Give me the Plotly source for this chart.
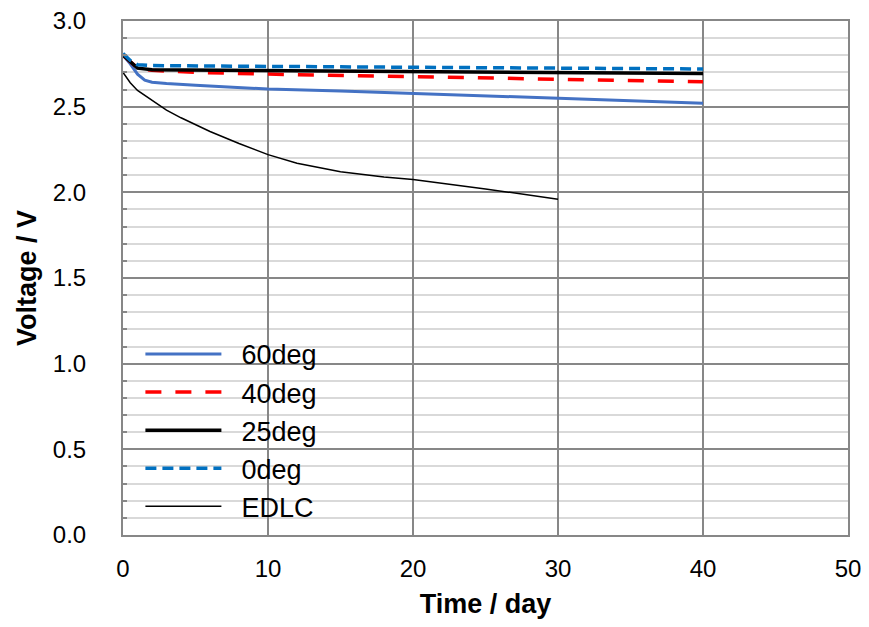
import plotly.graph_objects as go

days_60 = [0, 0.5, 1, 1.5, 2, 3, 5, 10, 15, 20, 25, 30, 35, 40]
v_60 = [2.80, 2.75, 2.69, 2.655, 2.643, 2.635, 2.625, 2.603, 2.592, 2.578, 2.563, 2.548, 2.533, 2.52]

days_40 = [0, 0.5, 1, 2, 5, 10, 20, 30, 40]
v_40 = [2.80, 2.76, 2.725, 2.712, 2.70, 2.69, 2.675, 2.657, 2.645]

days_25 = [0, 0.5, 1, 2, 10, 20, 30, 40]
v_25 = [2.80, 2.76, 2.725, 2.715, 2.71, 2.702, 2.698, 2.693]

days_0 = [0, 0.5, 1, 2, 10, 20, 30, 40]
v_0 = [2.81, 2.77, 2.745, 2.74, 2.735, 2.73, 2.725, 2.72]

days_edlc = [0, 0.5, 1, 2, 3, 4, 5, 6, 8, 10, 12, 15, 18, 20, 25, 30]
v_edlc = [2.70, 2.64, 2.595, 2.535, 2.48, 2.435, 2.395, 2.355, 2.285, 2.22, 2.17, 2.12, 2.09, 2.075, 2.02, 1.96]

x_ticks = [0, 10, 20, 30, 40, 50]
y_ticks = [0.0, 0.5, 1.0, 1.5, 2.0, 2.5, 3.0]

series = [
    ("60deg", days_60, v_60, dict(color="#4472C4", width=3)),
    ("40deg", days_40, v_40, dict(color="#FF0000", width=3.5, dash="16px,14px")),
    ("25deg", days_25, v_25, dict(color="#000000", width=3.5)),
    ("0deg", days_0, v_0, dict(color="#0070C0", width=3.5, dash="11px,6px")),
    ("EDLC", days_edlc, v_edlc, dict(color="#000000", width=1.5)),
]

fig = go.Figure()
for name, xs, ys, line in series:
    fig.add_trace(go.Scatter(x=xs, y=ys, mode="lines",
                             name="\u00a0\u00a0" + name, line=line,
                             legendgroup=name))

grid_dark = "#878787"

# white panel behind the legend (covers the gridlines like the original)
fig.add_shape(type="rect", xref="paper", yref="paper",
              x0=0.003, x1=0.30, y0=0.01, y1=0.375,
              fillcolor="white", line=dict(width=0), layer="between")

fig.update_layout(
    width=853, height=611,
    margin=dict(l=115, r=13, t=13, b=84),
    paper_bgcolor="white", plot_bgcolor="white",
    font=dict(family="Liberation Sans, Arial, sans-serif", size=24, color="#000"),
    legend=dict(x=0.024, y=0.008, xanchor="left", yanchor="bottom",
                bgcolor="rgba(255,255,255,0)", font=dict(size=27), tracegroupgap=1.5,
                itemwidth=76, traceorder="normal"),
    showlegend=True,
)
fig.update_xaxes(
    range=[0, 50], tickvals=x_ticks, ticktext=[str(t) for t in x_ticks],
    showline=True, linecolor=grid_dark, linewidth=2, mirror=True,
    showgrid=True, gridcolor=grid_dark, gridwidth=1.5,
    ticks="inside", ticklen=5, tickcolor=grid_dark, tickwidth=1.5,
    ticklabelstandoff=11, zeroline=False, automargin=False,
    ticklabeloverflow="allow",
    title=dict(text="<b>Time / day</b>", font=dict(size=27), standoff=29),
)
fig.update_yaxes(
    range=[0, 3.0], tickvals=y_ticks, ticktext=[f"{t:.1f}" for t in y_ticks],
    showline=True, linecolor=grid_dark, linewidth=2, mirror=True,
    showgrid=True, gridcolor=grid_dark, gridwidth=1.5,
    ticks="inside", ticklen=5, tickcolor=grid_dark, tickwidth=1.5,
    minor=dict(dtick=0.1, showgrid=True, gridcolor="#d9d9d9", gridwidth=1.5,
               ticks="inside", ticklen=4, tickcolor=grid_dark),
    ticklabelstandoff=30, zeroline=False, automargin=False,
    ticklabeloverflow="allow",
    title=dict(text="<b>Voltage / V</b>", font=dict(size=27), standoff=8),
)
fig.write_html("out.html")
